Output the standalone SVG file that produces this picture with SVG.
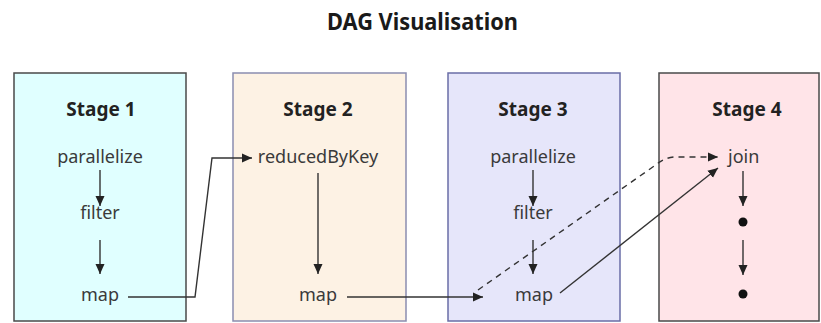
<svg xmlns="http://www.w3.org/2000/svg" width="821" height="323" viewBox="0 0 821 323">
  <defs>
    <style>
      .title { font-family: "Noto Sans", "Open Sans", sans-serif; font-weight: 700; font-size: 23px; fill: #1a1a1a; }
      .stage-title { font-family: "Noto Sans", "Open Sans", sans-serif; font-weight: 700; font-size: 19px; fill: #222; }
      .op { font-family: "Noto Sans", "Open Sans", sans-serif; font-size: 18px; fill: #3a3a3a; }
      .box { stroke-width: 1.5; }
      .edge { fill: none; stroke: #333; stroke-width: 1.4; }
      .dashed { stroke-dasharray: 6 5; }
      .dot { fill: #111; }
    </style>
    <marker id="arrow" viewBox="0 0 10 10" refX="10" refY="5" markerWidth="10" markerHeight="10" markerUnits="userSpaceOnUse" orient="auto">
      <path d="M0,0.5 L10,5 L0,9.5 Z" fill="#222"/>
    </marker>
  </defs>

  <rect width="821" height="323" fill="#ffffff"/>

  <text class="title" x="422.5" y="30" text-anchor="middle" textLength="191" lengthAdjust="spacingAndGlyphs">DAG Visualisation</text>

  <!-- Stage 1 -->
  <g id="stage1">
    <rect class="box" x="14" y="73" width="172" height="248" fill="#e0ffff" stroke="#4a4a4a"/>
    <text class="stage-title" x="101" y="116" text-anchor="middle">Stage 1</text>
    <text class="op" x="100" y="163" text-anchor="middle">parallelize</text>
    <text class="op" x="100" y="219" text-anchor="middle">filter</text>
    <text class="op" x="100" y="301" text-anchor="middle">map</text>
    <line class="edge" x1="100" y1="170" x2="100" y2="206" marker-end="url(#arrow)"/>
    <line class="edge" x1="100" y1="240" x2="100" y2="274" marker-end="url(#arrow)"/>
  </g>

  <!-- Stage 2 -->
  <g id="stage2">
    <rect class="box" x="233" y="73" width="173" height="248" fill="#fdf2e4" stroke="#8a8db0"/>
    <text class="stage-title" x="318" y="116" text-anchor="middle">Stage 2</text>
    <text class="op" x="318" y="163" text-anchor="middle">reducedByKey</text>
    <text class="op" x="318" y="301" text-anchor="middle">map</text>
    <line class="edge" x1="318" y1="173" x2="318" y2="274" marker-end="url(#arrow)"/>
  </g>

  <!-- Stage 3 -->
  <g id="stage3">
    <rect class="box" x="448" y="73" width="172" height="248" fill="#e6e6fa" stroke="#6a6da6"/>
    <text class="stage-title" x="533" y="116" text-anchor="middle">Stage 3</text>
    <text class="op" x="533" y="163" text-anchor="middle">parallelize</text>
    <text class="op" x="533" y="219" text-anchor="middle">filter</text>
    <text class="op" x="534" y="301" text-anchor="middle">map</text>
    <line class="edge" x1="533" y1="170" x2="533" y2="206" marker-end="url(#arrow)"/>
    <line class="edge" x1="533" y1="240" x2="533" y2="274" marker-end="url(#arrow)"/>
  </g>

  <!-- Stage 4 -->
  <g id="stage4">
    <rect class="box" x="659" y="73" width="160" height="248" fill="#ffe4e8" stroke="#4a4a4a"/>
    <text class="stage-title" x="747" y="116" text-anchor="middle">Stage 4</text>
    <text class="op" x="728" y="163">join</text>
    <line class="edge" x1="743" y1="171" x2="743" y2="206" marker-end="url(#arrow)"/>
    <circle class="dot" cx="743" cy="222" r="4.5"/>
    <line class="edge" x1="743" y1="240" x2="743" y2="275" marker-end="url(#arrow)"/>
    <circle class="dot" cx="743" cy="294" r="4.5"/>
  </g>

  <!-- Connectors between stages -->
  <g id="connectors">
    <polyline class="edge" points="128,297 195,297 212,158 252,158" marker-end="url(#arrow)"/>
    <line class="edge" x1="347" y1="297" x2="483" y2="297" marker-end="url(#arrow)"/>
    <path class="edge dashed" d="M478,290 L657,164 Q664,158 674,157 L718,157" marker-end="url(#arrow)"/>
    <line class="edge" x1="560" y1="293" x2="718" y2="168" marker-end="url(#arrow)"/>
  </g>
</svg>
